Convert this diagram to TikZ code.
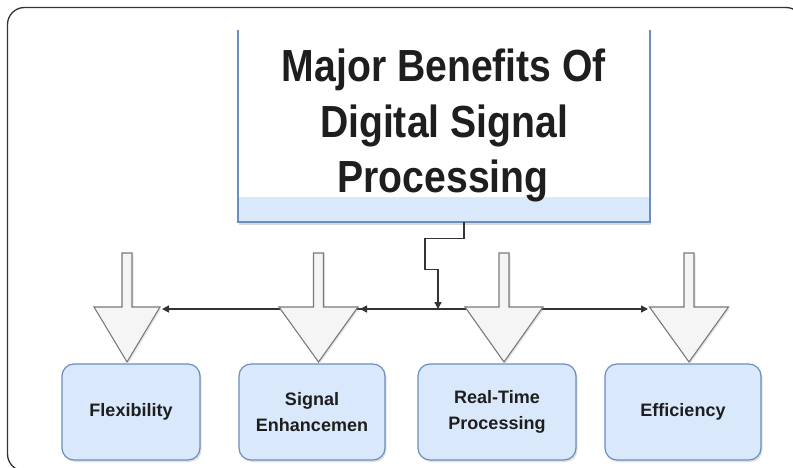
\documentclass[tikz,border=0pt]{standalone}
\usepackage{fontspec}
\setmainfont{Liberation Sans}
\newfontfamily\titlefont[FakeStretch=0.87]{Liberation Sans}
\usetikzlibrary{shadows,arrows.meta}
\definecolor{boxfill}{HTML}{DAE8FC}
\definecolor{boxline}{HTML}{6C8EBF}
\definecolor{arrfill}{HTML}{F5F5F5}
\definecolor{arrline}{HTML}{7A7A7A}
\definecolor{txt}{HTML}{1E1E1E}
\definecolor{conncol}{HTML}{333333}
\newcommand{\blockarr}[2]{%
  \draw[barrow] ({#1-5},253) -- ({#1+5},253) -- ({#1+5},307) -- ({#1+#2},307)
    -- (#1,362) -- ({#1-#2},307) -- ({#1-5},307) -- cycle;}
\tikzset{
  benefit/.style={draw=boxline, fill=boxfill, line width=1.2pt, rounded corners=12pt,
    minimum height=96pt, align=center, text=txt,
    font=\bfseries\fontsize{18}{26}\selectfont,
    drop shadow={shadow xshift=1.5pt, shadow yshift=-2pt, opacity=0.25}},
  barrow/.style={draw=arrline, fill=arrfill, line width=1.1pt, line join=miter,
    drop shadow={shadow xshift=1.5pt, shadow yshift=-1.5pt, opacity=0.2}},
  conn/.style={draw=conncol, line width=1.4pt, -{Triangle[length=7pt,width=7pt]}},
  titleline/.style={anchor=base, text=txt, font=\titlefont\bfseries\fontsize{45}{55}\selectfont},
}
\begin{document}
\begin{tikzpicture}[x=1pt,y=-1pt]
\useasboundingbox (0,0) rectangle (793,468);
\fill[white] (0,0) rectangle (793,468);
% outer frame
\draw[line width=1.3pt, draw=conncol, rounded corners=17pt] (7.5,7.5) rectangle (803,471);

% title box
\node[minimum width=412pt, minimum height=192pt, inner sep=0pt] (title) at (444,126) {};
\fill[boxfill, drop shadow={shadow xshift=1pt, shadow yshift=-2.5pt, opacity=0.3}] (238,197) rectangle (650,222);
\draw[boxline, line width=1.2pt] (238,30) -- (238,222) -- (650,222) -- (650,30);
\node[titleline] (t1) at (444,82) {Major Benefits Of};
\node[titleline] (t2) at (444,138) {Digital Signal};
\node[titleline] (t3) at (443,193) {Processing};

% benefit boxes
\node[benefit, minimum width=138pt] (flex) at (131,412) {Flexibility};
\node[benefit, minimum width=146pt] (sig) at (312,412) {Signal\\Enhancemen};
\node[benefit, minimum width=158pt] (rt) at (497,412) {Real-Time\\Processing};
\node[benefit, minimum width=156pt] (eff) at (683,412) {Efficiency};

% connector end points
\coordinate (j) at (438,309);
\coordinate (flexin) at (162,309);
\coordinate (sigin) at (360,309);
\coordinate (effin) at (648,309);

% horizontal distribution lines
\draw[conn] (j) -- (flexin);
\draw[conn] (j) -- (sigin);
\draw[conn] (j) -- (effin);

% block arrows
\blockarr{127}{33}
\blockarr{318.5}{39.5}
\blockarr{504}{39}
\blockarr{689}{39.5}

% connector from title
\draw[conn] ([xshift=20pt]title.south) -- ++(0,16) -- ++(-39,0) -- ++(0,31) -- ++(13,0) -- (j);
\end{tikzpicture}
\end{document}
